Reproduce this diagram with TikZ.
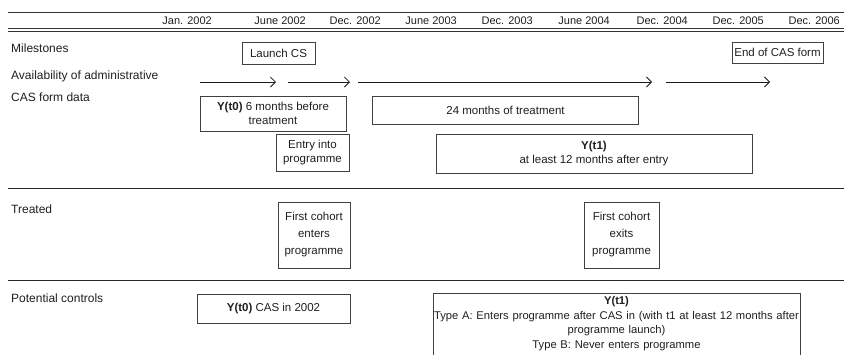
\documentclass[tikz,border=0pt]{standalone}
\usepackage{fontspec}
\setmainfont{Liberation Sans}
\usetikzlibrary{arrows.meta}
\begin{document}
\begin{tikzpicture}[x=1pt,y=-1pt,
  every node/.style={text=black!88},
  hdr/.style={font=\fontsize{11}{13}\selectfont, inner sep=0pt, anchor=east},
  lbl/.style={font=\fontsize{12}{14}\selectfont, inner sep=0pt, anchor=west},
  boxline/.style={draw=black!75, line width=0.7pt},
  box/.style={boxline, inner sep=0pt, align=center,
    font=\fontsize{11.5}{14.5}\selectfont},
  rulethin/.style={line width=0.7pt, draw=black!80},
  rulesep/.style={line width=0.9pt, draw=black!85},
  flow/.style={line width=0.8pt, draw=black!90, -{Straight Barb[length=5pt,width=10pt,line width=0.8pt]}}]
\useasboundingbox (0,0) rectangle (844,354);

% header rules
\coordinate (t0) at (8,12);   \coordinate (t1) at (844,12);
\coordinate (d0) at (8,28.5); \coordinate (d1) at (844,28.5);
\coordinate (e0) at (8,31);   \coordinate (e1) at (844,31);
\draw[rulethin] (t0) -- (t1);
\draw[rulethin] (d0) -- (d1);
\draw[rulethin] (e0) -- (e1);

% header dates
\node[hdr] (h1) at (212,21) {Jan. 2002};
\node[hdr] (h2) at (306,21) {June 2002};
\node[hdr] (h3) at (381,21) {Dec. 2002};
\node[hdr] (h4) at (457,21) {June 2003};
\node[hdr] (h5) at (533,21) {Dec. 2003};
\node[hdr] (h6) at (610,21) {June 2004};
\node[hdr] (h7) at (688,21) {Dec. 2004};
\node[hdr] (h8) at (764,21) {Dec. 2005};
\node[hdr] (h9) at (840,21) {Dec. 2006};

% row labels
\node[lbl] (lm) at (11,48) {Milestones};
\node[lbl] (la) at (11,76) {Availability of administrative};
\node[lbl] (lc) at (11,97) {CAS form data};
\node[lbl] (lt) at (11,209) {Treated};
\node[lbl] (lp) at (11,298) {Potential controls};

% milestones
\node[box, minimum width=73pt, minimum height=22pt] (launch) at (278.5,53) {Launch CS};
\node[box, minimum width=91pt, minimum height=21pt] (endcas) at (777.5,52.5) {End of CAS form};

% availability arrows
\coordinate (a1s) at (200,82); \coordinate (a1e) at (276,82);
\coordinate (a2s) at (288,82); \coordinate (a2e) at (350,82);
\coordinate (a3s) at (358,82); \coordinate (a3e) at (652,82);
\coordinate (a4s) at (666,82); \coordinate (a4e) at (770,82);
\draw[flow] (a1s) -- (a1e);
\draw[flow] (a2s) -- (a2e);
\draw[flow] (a3s) -- (a3e);
\draw[flow] (a4s) -- (a4e);

% data boxes
\node[box, minimum width=146pt, minimum height=35pt] (yt0) at (273,113.5)
  {\textbf{Y(t0)} 6 months before\\treatment};
\node[box, minimum width=266pt, minimum height=28pt] (treat) at (505.5,110)
  {24 months of treatment};
\node[box, minimum width=73pt, minimum height=37pt] (entry) at (312.5,152.5)
  {Entry into\\programme};
\node[box, minimum width=316pt, minimum height=39pt] (yt1) at (594,153.5)
  {\textbf{Y(t1)}\\at least 12 months after entry};

% separator
\coordinate (s1a) at (8,188); \coordinate (s1b) at (844,188);
\draw[rulesep] (s1a) -- (s1b);

% treated
\node[box, minimum width=72pt, minimum height=66pt, font=\fontsize{11.5}{17}\selectfont] (enters) at (314,235)
  {First cohort\\enters\\programme};
\node[box, minimum width=75pt, minimum height=66pt, font=\fontsize{11.5}{17}\selectfont] (exits) at (621.5,235)
  {First cohort\\exits\\programme};

% separator
\coordinate (s2a) at (8,280); \coordinate (s2b) at (844,280);
\draw[rulesep] (s2a) -- (s2b);

% potential controls
\node[box, minimum width=153pt, minimum height=29pt] (ct0) at (273.5,308.5)
  {\textbf{Y(t0)} CAS in 2002};
\node[anchor=north, text width=367pt, inner sep=0pt, align=center,
  font=\fontsize{11.2}{14.5}\selectfont] (ct1) at (616.5,296.5)
  {\textbf{Y(t1)}\\Type A: Enters programme after CAS in (with t1 at least 12 months after\\programme launch)\\Type B: Never enters programme};
\draw[boxline] (433,360) |- (800,293) -- (800,360);
\end{tikzpicture}
\end{document}
